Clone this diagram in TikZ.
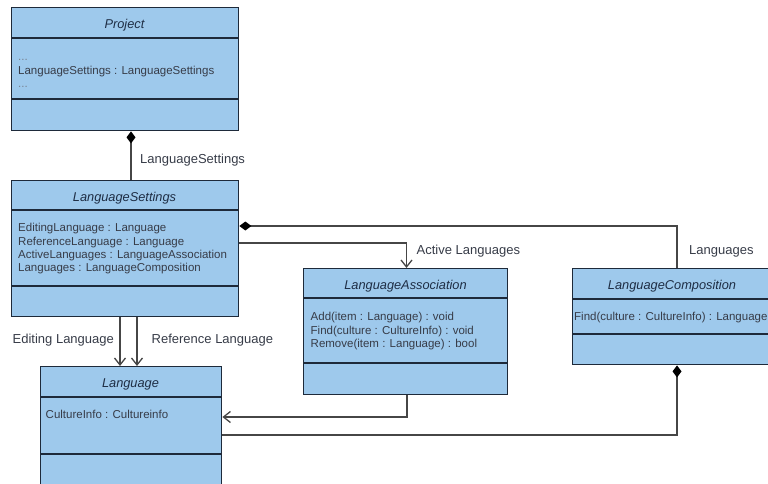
\documentclass[tikz,border=0pt]{standalone}
\usepackage{fontspec}
\setmainfont{Liberation Sans}
\usetikzlibrary{arrows.meta,calc}

\definecolor{boxfill}{RGB}{158,201,236}
\definecolor{boxline}{RGB}{30,42,58}
\definecolor{connline}{RGB}{70,70,70}
\definecolor{titleink}{RGB}{30,45,68}
\definecolor{bodyink}{RGB}{55,60,72}
\definecolor{dotink}{RGB}{120,130,145}

\tikzset{
  classbox/.style={rectangle, draw=boxline, fill=boxfill, line width=1.4pt,
    inner sep=0pt, anchor=north west},
  divider/.style={draw=boxline, line width=1.4pt},
  classtitle/.style={inner sep=0pt, anchor=base, text=titleink,
    font=\fontsize{12.8}{14}\selectfont\itshape},
  member/.style={inner sep=0pt, anchor=base west, text=bodyink,
    font=\fontsize{11.5}{13.3}\selectfont},
  elided/.style={member, text=dotink},
  rolelabel/.style={inner sep=0pt, anchor=base west, text=bodyink,
    font=\fontsize{13}{15}\selectfont},
  conn/.style={draw=connline, line width=1.3pt},
  composite/.style={conn, {Diamond[length=12pt,width=9pt,color=black,fill=black]}-},
  navigable/.style={conn, -{Straight Barb[length=7pt,width=11pt]}},
}

\begin{document}
\begin{tikzpicture}[x=1pt, y=-1pt]
\useasboundingbox (0,0) rectangle (768,483);
\clip (0,0) rectangle (768,483);

% ---- class boxes ----
\node[classbox, minimum width=227pt, minimum height=123pt] (proj) at (11,7) {};
\node[classbox, minimum width=227pt, minimum height=136pt] (ls) at (11,180) {};
\node[classbox, minimum width=204pt, minimum height=126pt] (la) at (303,268) {};
\node[classbox, minimum width=200pt, minimum height=96pt] (lc) at (572,268) {};
\node[classbox, minimum width=181pt, minimum height=160pt] (lang) at (40,366) {};

% compartment dividers
\draw[divider] ($(proj.north west)+(0,31)$) -- ($(proj.north east)+(0,31)$);
\draw[divider] ($(proj.north west)+(0,92)$) -- ($(proj.north east)+(0,92)$);
\draw[divider] ($(ls.north west)+(0,30)$) -- ($(ls.north east)+(0,30)$);
\draw[divider] ($(ls.north west)+(0,106)$) -- ($(ls.north east)+(0,106)$);
\draw[divider] ($(la.north west)+(0,30)$) -- ($(la.north east)+(0,30)$);
\draw[divider] ($(la.north west)+(0,95)$) -- ($(la.north east)+(0,95)$);
\draw[divider] ($(lc.north west)+(0,31)$) -- ($(lc.north east)+(0,31)$);
\draw[divider] ($(lc.north west)+(0,66)$) -- ($(lc.north east)+(0,66)$);
\draw[divider] ($(lang.north west)+(0,31)$) -- ($(lang.north east)+(0,31)$);
\draw[divider] ($(lang.north west)+(0,88)$) -- ($(lang.north east)+(0,88)$);

% ---- class names ----
\node[classtitle] (projname) at (124.5,28.5) {Project};
\node[classtitle] (lsname) at (124.5,201) {LanguageSettings};
\node[classtitle] (laname) at (405.5,289) {LanguageAssociation};
\node[classtitle] (lcname) at (672,289.5) {LanguageComposition};
\node[classtitle] (langname) at (130.5,387) {Language};

% ---- members ----
\node[elided] (proj1) at (18,60) {...};
\node[member] (proj2) at (18,74.5) {LanguageSettings : LanguageSettings};
\node[elided] (proj3) at (18,87) {...};

\node[member] (ls1) at (18,231.7) {EditingLanguage : Language};
\node[member] (ls2) at (18,245) {ReferenceLanguage : Language};
\node[member] (ls3) at (18,258.3) {ActiveLanguages : LanguageAssociation};
\node[member] (ls4) at (18,271.6) {Languages : LanguageComposition};

\node[member] (la1) at (310.5,320.7) {Add(item : Language) : void};
\node[member] (la2) at (310.5,334) {Find(culture : CultureInfo) : void};
\node[member] (la3) at (310.5,347.3) {Remove(item : Language) : bool};

\node[member] (lc1) at (574,320) {Find(culture : CultureInfo) : Language};

\node[member] (lang1) at (45.5,418) {CultureInfo : Cultureinfo};

% ---- connector end points ----
\coordinate (projSettings) at ($(proj.south west)+(120,0)$);
\coordinate (lsTop) at ($(ls.north west)+(120,0)$);
\coordinate (lsLangs) at ($(ls.north east)+(0,46)$);
\coordinate (lcTop) at ($(lc.north west)+(105,0)$);
\coordinate (lsActive) at ($(ls.north east)+(0,63)$);
\coordinate (laTop) at ($(la.north west)+(103.5,0)$);
\coordinate (lsEdit) at ($(ls.south west)+(109,0)$);
\coordinate (lsRef) at ($(ls.south west)+(126,0)$);
\coordinate (laBottom) at ($(la.south west)+(104,0)$);
\coordinate (langFromLA) at ($(lang.north east)+(0,51)$);
\coordinate (lcBottom) at ($(lc.south west)+(105,0)$);
\coordinate (langFromLC) at ($(lang.north east)+(0,69)$);

% ---- associations ----
\draw[composite] (projSettings) -- (lsTop);
\draw[composite] (lsLangs) -| (lcTop);
\draw[navigable] (lsActive) -| (laTop);
\draw[navigable] (lsEdit) -- (lsEdit |- lang.north);
\draw[navigable] (lsRef) -- (lsRef |- lang.north);
\draw[navigable] (laBottom) |- (langFromLA);
\draw[composite] (lcBottom) |- (langFromLC);

% ---- role names ----
\node[rolelabel] (roleSettings) at (140,163) {LanguageSettings};
\node[rolelabel] (roleActive) at (416.5,254.5) {Active Languages};
\node[rolelabel] (roleLangs) at (689,254) {Languages};
\node[rolelabel] (roleEdit) at (12.5,343) {Editing Language};
\node[rolelabel] (roleRef) at (151.5,343) {Reference Language};
\end{tikzpicture}
\end{document}
